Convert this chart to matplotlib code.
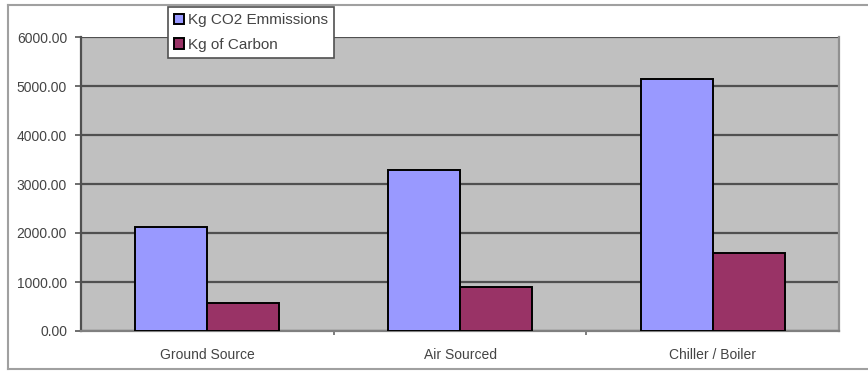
import numpy as np
import matplotlib.pyplot as plt
from matplotlib.lines import Line2D

# Emissions per heating system
systems = ['Ground Source', 'Air Sourced', 'Chiller / Boiler']
co2_kg = [2130, 3290, 5140]
carbon_kg = [580, 900, 1600]
y_ticks = [0, 1000, 2000, 3000, 4000, 5000, 6000]

plt.rcParams['font.family'] = ['Liberation Sans', 'DejaVu Sans']

fig = plt.figure(figsize=(8.68, 3.71), dpi=100)
ax = fig.add_axes([81 / 868, 40 / 371, 758 / 868, 294 / 371])
ax.set_facecolor('#c0c0c0')

x = np.arange(len(systems))
w = 0.285
ax.bar(x - w / 2, co2_kg, w, color='#9999ff', edgecolor='black', linewidth=1.4,
       label='Kg CO2 Emmissions', zorder=3)
ax.bar(x + w / 2, carbon_kg, w, color='#993366', edgecolor='black', linewidth=1.4,
       label='Kg of Carbon', zorder=3)

ax.set_xlim(-0.5, len(systems) - 0.5)
ax.set_ylim(0, 6000)
ax.set_yticks(y_ticks)
ax.set_yticklabels(['%.2f' % v for v in y_ticks])
ax.yaxis.grid(True, color='#505050', linewidth=1.6, zorder=1)

# category labels centred, tick marks on the category boundaries
ax.set_xticks(x)
ax.set_xticklabels(systems)
ax.tick_params(axis='x', length=0, pad=12, labelsize=10, labelcolor='#444444')
ax.set_xticks(np.arange(1, len(systems)) - 0.5, minor=True)
ax.tick_params(axis='x', which='minor', length=3, width=1.2, color='#666666')
ax.tick_params(axis='y', length=4, width=1.2, color='#555555', pad=6,
               labelsize=10, labelcolor='#444444')

ax.spines['left'].set_color('#505050')
ax.spines['bottom'].set_color('#808080')
ax.spines['right'].set_color('#909090')
for side in ['left', 'bottom', 'right']:
    ax.spines[side].set_linewidth(1.6)
ax.spines['top'].set_visible(False)

# outer chart frame
fig.add_artist(Line2D([8 / 868, 1], [1 - 5 / 371, 1 - 5 / 371], color='#a0a0a0', lw=1.5))
fig.add_artist(Line2D([8 / 868, 8 / 868], [1 - 5 / 371, 1 - 369 / 371], color='#a0a0a0', lw=1.5))
fig.add_artist(Line2D([8 / 868, 1], [1 - 369 / 371, 1 - 369 / 371], color='#a0a0a0', lw=1.5))

leg = fig.legend(loc='upper left', bbox_to_anchor=(168 / 868, 1 - 7 / 371),
                 fontsize=11, frameon=True, fancybox=False, edgecolor='#505050',
                 facecolor='white', framealpha=1,
                 handlelength=0.65, handleheight=0.65, handletextpad=0.25,
                 borderpad=0.4, labelspacing=0.7, borderaxespad=0)
leg.get_frame().set_linewidth(1.2)
for t in leg.get_texts():
    t.set_color('#444444')

fig.savefig('out.png', dpi=100)
